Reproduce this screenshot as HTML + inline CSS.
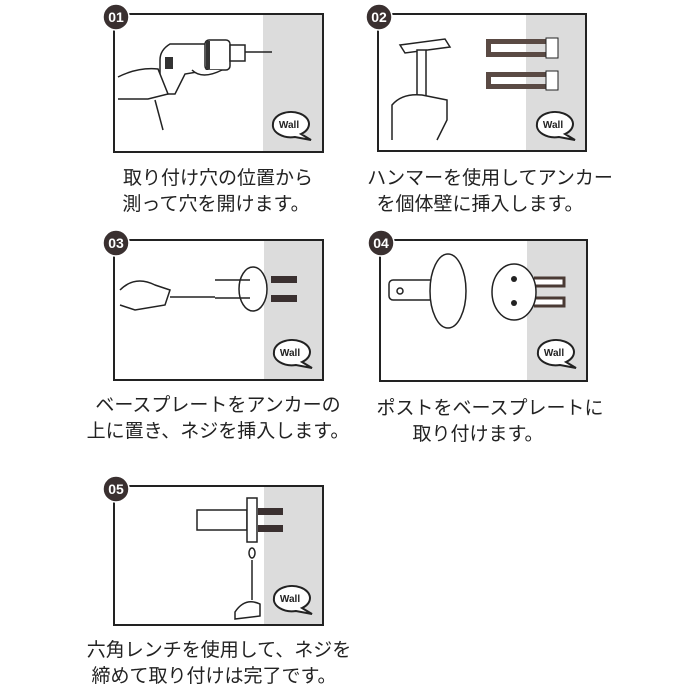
<!DOCTYPE html>
<html><head><meta charset="utf-8"><style>
body{margin:0;background:#fff;}
svg{display:block}
text{font-family:"Liberation Sans","Noto Sans CJK JP",sans-serif;}
.t{font-size:19px;fill:#222;text-anchor:middle}
.b{font-size:14px;font-weight:bold;fill:#fff;text-anchor:middle}
.w{font-size:10px;font-weight:bold;fill:#222;text-anchor:middle}
</style></head><body>
<svg width="700" height="700" viewBox="0 0 700 700">
<defs>
<g id="wall">
<path d="M-18,0 a18,12 0 1,1 28,10 l10,6 l-16,-3 a18,12 0 0,1 -22,-13z" fill="#fff" stroke="#222" stroke-width="2"/>
</g>
</defs>
<!-- panel frames -->
<g fill="none" stroke="#222" stroke-width="2">
<rect x="114" y="14" width="209" height="138" fill="#fff"/>
<rect x="378" y="14" width="208" height="137" fill="#fff"/>
<rect x="114" y="240" width="209" height="140" fill="#fff"/>
<rect x="380" y="240" width="207" height="141" fill="#fff"/>
<rect x="114" y="486" width="209" height="139" fill="#fff"/>
</g>
<g fill="#dcdcdc">
<rect x="263" y="15" width="59" height="136"/>
<rect x="526" y="15" width="59" height="135"/>
<rect x="264" y="241" width="58" height="138"/>
<rect x="527" y="241" width="59" height="139"/>
<rect x="264" y="487" width="58" height="137"/>
</g>
<!-- wall bubbles -->
<g><use href="#wall" x="291" y="124"/><text class="w" x="289" y="128">Wall</text></g>
<g><use href="#wall" x="555" y="124"/><text class="w" x="553" y="128">Wall</text></g>
<g><use href="#wall" x="292" y="352"/><text class="w" x="290" y="356">Wall</text></g>
<g><use href="#wall" x="556" y="352"/><text class="w" x="554" y="356">Wall</text></g>
<g><use href="#wall" x="292" y="598"/><text class="w" x="290" y="602">Wall</text></g>
<!-- badges -->
<g fill="#3a3030" stroke="#fff" stroke-width="1.5">
<circle cx="116" cy="17" r="13"/><circle cx="379" cy="17" r="13"/><circle cx="116" cy="243" r="13"/><circle cx="381" cy="243" r="13"/><circle cx="116" cy="489" r="13"/>
</g>
<text class="b" x="116" y="22">01</text><text class="b" x="379" y="22">02</text><text class="b" x="116" y="248">03</text><text class="b" x="381" y="248">04</text><text class="b" x="116" y="494">05</text>
<!-- panel 1 drill -->
<g fill="#fff" stroke="#222" stroke-width="1.5">
<path d="M160,60 q0,-10 10,-16 l45,0 l0,25 l-30,5 l-10,20 l-15,0 z"/>
<rect x="205" y="40" width="25" height="30" rx="4"/>
<rect x="230" y="45" width="15" height="16"/>
<line x1="245" y1="52" x2="272" y2="52"/>
<path d="M118,77 q20,-10 40,-8 l10,25 l-20,5 l-30,0"/>
<path d="M192,70 q10,10 30,0"/>
<path d="M155,100 l8,30"/>
</g>
<rect x="165" y="57" width="8" height="12" fill="#333"/>
<rect x="206" y="41" width="4" height="28" fill="#333"/>
<!-- panel 2 -->
<g fill="#fff" stroke="#222" stroke-width="1.5">
<path d="M400,45 l45,-6 l5,8 l-45,6 z"/>
<rect x="417" y="50" width="9" height="50"/>
<path d="M392,140 l0,-35 q10,-12 30,-10 l25,5 l0,20 l-10,20"/>
</g>
<g fill="#5a4a44">
<rect x="486" y="39" width="60" height="5"/><rect x="486" y="52" width="60" height="5"/><rect x="486" y="39" width="5" height="18"/>
<rect x="486" y="72" width="60" height="5"/><rect x="486" y="84" width="60" height="5"/><rect x="486" y="72" width="5" height="17"/>
</g>
<rect x="546" y="38" width="12" height="20" fill="#fff" stroke="#222"/><rect x="546" y="71" width="12" height="19" fill="#fff" stroke="#222"/>
<!-- panel 3 -->
<g fill="#fff" stroke="#222" stroke-width="1.5">
<ellipse cx="253" cy="289" rx="14" ry="22"/>
<line x1="215" y1="280" x2="250" y2="280"/><line x1="215" y1="298" x2="250" y2="298"/>
<line x1="170" y1="297" x2="215" y2="297"/>
<path d="M120,290 q15,-15 35,-5 l15,5 l-5,15 l-30,5 l-15,-5"/>
</g>
<rect x="271" y="276" width="26" height="7" fill="#3a3030"/><rect x="271" y="295" width="26" height="7" fill="#3a3030"/>
<!-- panel 4 -->
<g fill="#fff" stroke="#222" stroke-width="1.5">
<rect x="389" y="280" width="50" height="20" rx="4"/>
<ellipse cx="448" cy="291" rx="18" ry="37"/>
<path d="M534,278 h30 v8 h-30 M534,298 h30 v8 h-30" stroke-width="3" stroke="#4a3a34"/>
<ellipse cx="514" cy="292" rx="22" ry="28"/>
<circle cx="400" cy="291" r="3"/>
</g>
<g fill="#222"><circle cx="514" cy="279" r="3"/><circle cx="514" cy="303" r="3"/></g>
<!-- panel 5 -->
<g fill="#fff" stroke="#222" stroke-width="1.5">
<rect x="197" y="510" width="50" height="20"/>
<rect x="247" y="498" width="10" height="44"/>
<line x1="252" y1="560" x2="252" y2="600"/>
<ellipse cx="252" cy="553" rx="3" ry="5"/>
<path d="M235,612 q10,-15 25,-8 l0,12 l-25,3 z"/>
</g>
<rect x="258" y="508" width="25" height="7" fill="#3a3030"/><rect x="258" y="525" width="25" height="7" fill="#3a3030"/>
<!-- captions -->
<text class="t" x="218" y="184">取り付け穴の位置から</text>
<text class="t" x="216" y="210">測って穴を開けます。</text>
<text class="t" x="490" y="184">ハンマーを使用してアンカー</text>
<text class="t" x="480" y="210">を個体壁に挿入します。</text>
<text class="t" x="218" y="411">ベースプレートをアンカーの</text>
<text class="t" x="218" y="437">上に置き、ネジを挿入します。</text>
<text class="t" x="490" y="414">ポストをベースプレートに</text>
<text class="t" x="478" y="440">取り付けます。</text>
<text class="t" x="219" y="656">六角レンチを使用して、ネジを</text>
<text class="t" x="214" y="682">締めて取り付けは完了です。</text>
</svg>
</body></html>
